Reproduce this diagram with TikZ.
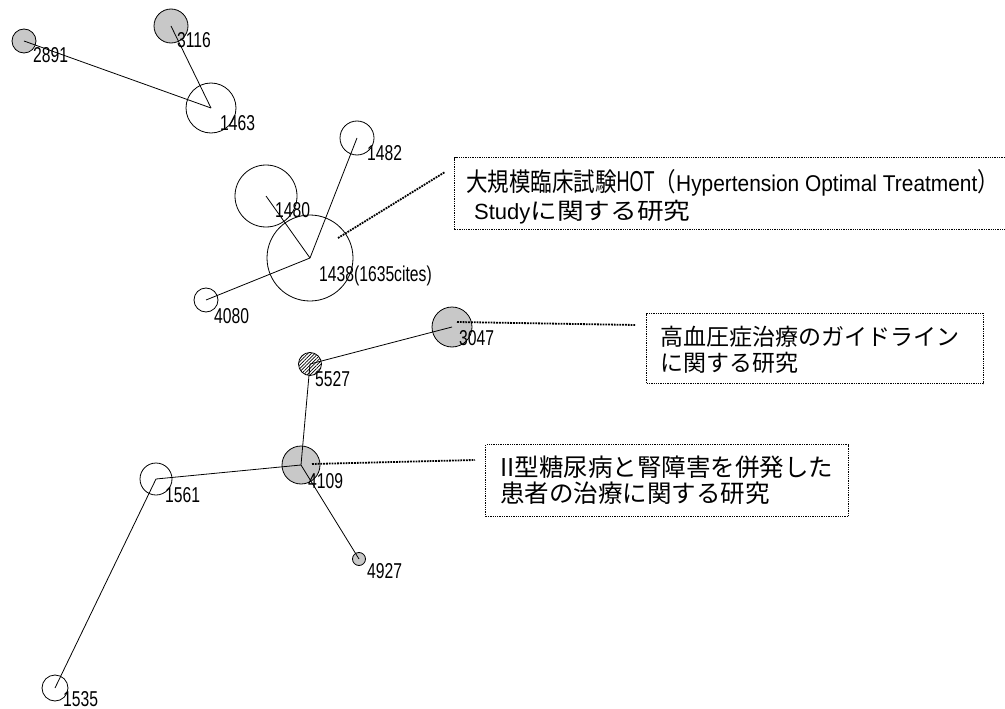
\documentclass[tikz,border=0pt]{standalone}
\usepackage{fontspec}
\usepackage{graphicx}
\usetikzlibrary{patterns.meta}
\newfontfamily\numfont[FakeStretch=0.73]{Liberation Sans}
\newfontfamily\latnarrow[FakeStretch=0.75]{Liberation Sans}
\newfontfamily\latwide[FakeStretch=1.1]{Liberation Sans}
\newfontfamily\latplain{Liberation Sans}
\newfontfamily\cjk{Noto Sans CJK JP}
\definecolor{nodegray}{RGB}{200,200,200}
\tikzset{
  cnode/.style={circle, draw=black, line width=0.8pt, inner sep=0pt, fill=white},
  gnode/.style={cnode, fill=nodegray},
  hnode/.style={cnode, pattern={Lines[angle=45, distance=2.4pt, line width=0.7pt]}},
  edge/.style={draw=black, line width=0.8pt},
  lbl/.style={anchor=base west, inner sep=0pt, font=\numfont\fontsize{21.5}{21.5}\selectfont},
  leader/.style={draw=black, densely dotted, line width=1.8pt},
  notebox/.style={draw=black, densely dotted, line width=1.3pt, inner sep=0pt, anchor=north west},
  boxtxt/.style={anchor=base west, inner sep=0pt}
}
\begin{document}
\begin{tikzpicture}[x=1pt,y=-1pt]
\useasboundingbox (0,0) rectangle (1005,709);
\clip (0,0) rectangle (1005,709);
% circles
\node[gnode, minimum size=24pt] (n2891) at (24,41) {};
\node[gnode, minimum size=34pt] (n3116) at (171,26) {};
\node[cnode, minimum size=50pt] (n1463) at (211,108) {};
\node[cnode, minimum size=34pt] (n1482) at (357,138) {};
\node[cnode, minimum size=62pt] (n1480) at (266,196) {};
\node[cnode, minimum size=86pt] (n1438) at (310,258) {};
\node[cnode, minimum size=24pt] (n4080) at (206,300) {};
\node[gnode, minimum size=40pt] (n3047) at (452,327) {};
\node[hnode, minimum size=23pt] (n5527) at (310,364) {};
\node[cnode, minimum size=32pt] (n1561) at (156,479) {};
\node[gnode, minimum size=38pt] (n4109) at (301,465) {};
\node[gnode, minimum size=13pt] (n4927) at (359,559) {};
\node[cnode, minimum size=26pt] (n1535) at (55,688) {};
% edges
\draw[edge] (n2891.center) -- (n1463.center);
\draw[edge] (n3116.center) -- (n1463.center);
\draw[edge] (n1482.center) -- (n1438.center);
\draw[edge] (n1480.center) -- (n1438.center);
\draw[edge] (n4080.center) -- (n1438.center);
\draw[edge] (n3047.center) -- (n5527.center);
\draw[edge] (n5527.center) -- (n4109.center);
\draw[edge] (n1561.center) -- (n4109.center);
\draw[edge] (n4927.center) -- (n4109.center);
\draw[edge] (n1535.center) -- (n1561.center);
% labels
\node[lbl] (t2891) at (33,63) {2891};
\node[lbl] (t3116) at (177,48) {3116};
\node[lbl] (t1463) at (220,130) {1463};
\node[lbl] (t1482) at (367,160) {1482};
\node[lbl] (t1480) at (275,217) {1480};
\node[lbl] (t1438) at (319,281) {1438(1635cites)};
\node[lbl] (t4080) at (214,323) {4080};
\node[lbl] (t3047) at (459,345) {3047};
\node[lbl] (t5527) at (315,386) {5527};
\node[lbl] (t1561) at (165,502) {1561};
\node[lbl] (t4109) at (308,488) {4109};
\node[lbl] (t4927) at (367,578) {4927};
\node[lbl] (t1535) at (63,706) {1535};
% boxes
\node[notebox, minimum width=560pt, minimum height=72pt] (b1) at (454,157) {};
\node[notebox, minimum width=337pt, minimum height=70pt] (b2) at (646,313) {};
\node[notebox, minimum width=363pt, minimum height=72pt] (b3) at (485,444) {};
\node[boxtxt] (b1l1) at (466,191) {\scalebox{1}[1.2]{\cjk\fontsize{21.5}{21.5}\selectfont 大規模臨床試験{\latnarrow\fontsize{24}{24}\selectfont HOT}（{\latwide\fontsize{19}{19}\selectfont Hypertension Optimal Treatment}）}};
\node[boxtxt] (b1l2) at (474,219) {{\latplain\fontsize{22}{22}\selectfont Study}\resizebox{160pt}{\height}{\cjk\fontsize{23}{23}\selectfont に関する研究}};
\node[boxtxt] (b2l1) at (660,345) {\cjk\fontsize{23}{23}\selectfont 高血圧症治療のガイドライン};
\node[boxtxt] (b2l2) at (660,371) {\cjk\fontsize{23}{23}\selectfont に関する研究};
\node[boxtxt] (b3l1) at (500,476) {\cjk\fontsize{24.5}{24.5}\selectfont II型糖尿病と腎障害を併発した};
\node[boxtxt] (b3l2) at (500,502) {\cjk\fontsize{24.5}{24.5}\selectfont 患者の治療に関する研究};
% leaders
\coordinate (l1a) at (338,238);
\coordinate (l1b) at (445,172);
\coordinate (l2a) at (457,322);
\coordinate (l2b) at (636,325);
\coordinate (l3a) at (312,464);
\coordinate (l3b) at (475,460);
\draw[leader] (l1a) -- (l1b);
\draw[leader] (l2a) -- (l2b);
\draw[leader] (l3a) -- (l3b);
\end{tikzpicture}
\end{document}
